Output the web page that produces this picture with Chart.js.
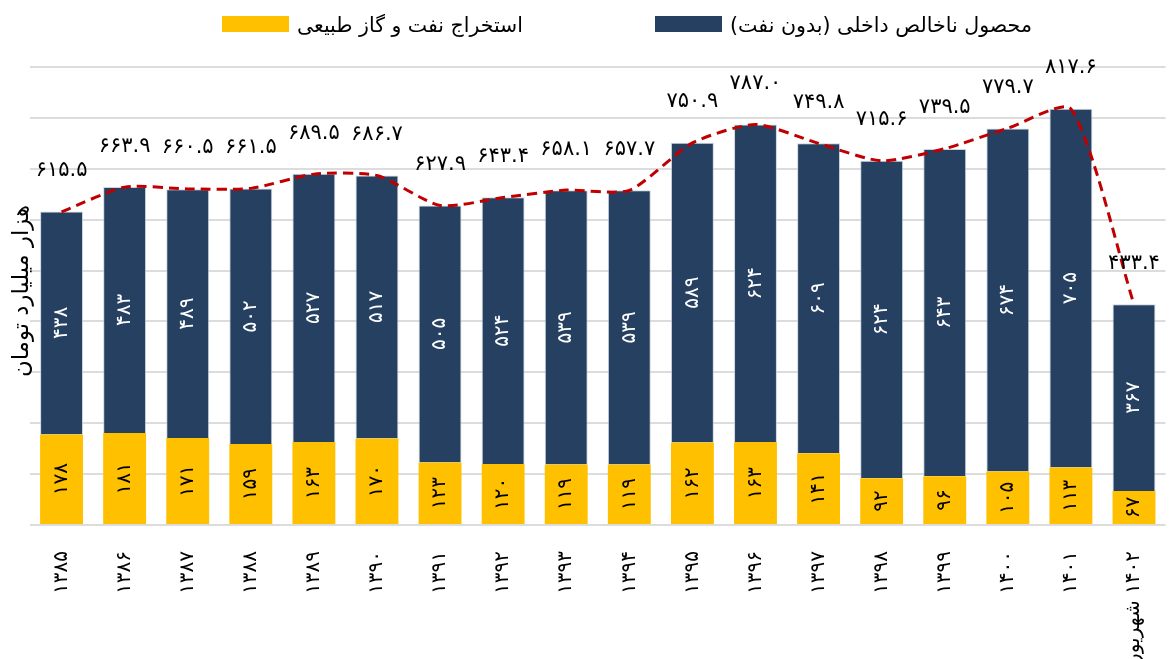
<!DOCTYPE html>
<html lang="fa">
<head>
<meta charset="utf-8">
<script src="https://cdn.jsdelivr.net/npm/chart.js@4.4.1/dist/chart.umd.min.js"></script>
<style>
html,body{margin:0;padding:0;background:#fff;overflow:hidden}
#wrap{position:absolute;left:0;top:0;width:1176px;height:659px}
canvas{direction:rtl}
</style>
</head>
<body>
<div id="wrap"><canvas id="c" width="1176" height="659"></canvas></div>
<script>
// GDP split: oil & gas extraction vs. non-oil GDP, with total as dashed line
const years = ["۱۳۸۵","۱۳۸۶","۱۳۸۷","۱۳۸۸","۱۳۸۹","۱۳۹۰","۱۳۹۱","۱۳۹۲","۱۳۹۳",
  "۱۳۹۴","۱۳۹۵","۱۳۹۶","۱۳۹۷","۱۳۹۸","۱۳۹۹","۱۴۰۰","۱۴۰۱","۱۴۰۲ شهریور"];
const oilGas = [178,181,171,159,163,170,123,120,119,119,162,163,141,92,96,105,113,67];
const nonOil = [438,483,489,502,527,517,505,524,539,539,589,624,609,624,643,674,705,367];
const totals = [615.5,663.9,660.5,661.5,689.5,686.7,627.9,643.4,658.1,657.7,750.9,787.0,
  749.8,715.6,739.5,779.7,817.6,433.4];
const seriesNames = ["استخراج نفت و گاز طبیعی", "محصول ناخالص داخلی (بدون نفت)"];
const yTitle = "هزار میلیارد تومان";

const C = {oil:"#FFC000", navy:"#264061", line:"#C00000", grid:"#dcdcdc"};
const FONT = '"DejaVu Sans", sans-serif';
const fa = v => String(v).replace(/\d/g, d => "۰۱۲۳۴۵۶۷۸۹"[d]);

// fit a font size so that text gets a given width
function fitFont(ctx, text, target, base) {
  ctx.font = `${base}px ${FONT}`;
  const w = ctx.measureText(text).width;
  return base * target / w;
}

const labels = {
  id: "labels",
  afterDatasetsDraw(chart) {
    const ctx = chart.ctx;
    ctx.save();
    ctx.textAlign = "center";
    ctx.textBaseline = "middle";
    [0, 1].forEach(di => {
      const vals = chart.data.datasets[di].data;
      chart.getDatasetMeta(di).data.forEach((bar, i) => {
        const {x, y, base} = bar.getProps(["x", "y", "base"], true);
        ctx.save();
        ctx.translate(x, (y + base) / 2);
        ctx.rotate(-Math.PI / 2);
        ctx.fillStyle = di === 0 ? "#000" : "#fff";
        ctx.font = `20px ${FONT}`;
        ctx.fillText(fa(vals[i]), 0, 0);
        ctx.restore();
      });
    });
    ctx.font = `21px ${FONT}`;
    ctx.fillStyle = "#000";
    chart.getDatasetMeta(2).data.forEach((p, i) => {
      ctx.fillText(fa(totals[i].toFixed(1)), p.x, p.y - 41);
    });
    ctx.restore();
  },
  afterDraw(chart) {
    const ctx = chart.ctx, a = chart.chartArea;
    ctx.save();
    ctx.fillStyle = "#000";
    ctx.textBaseline = "middle";
    // legend
    const items = [[C.oil, 222, seriesNames[0], 226], [C.navy, 655, seriesNames[1], 302]];
    items.forEach(([col, bx, txt, tw]) => {
      ctx.fillStyle = col;
      ctx.fillRect(bx, 16, 67, 16);
      ctx.fillStyle = "#000";
      ctx.font = `${fitFont(ctx, txt, tw, 20)}px ${FONT}`;
      ctx.textAlign = "left";
      ctx.fillText(txt, bx + 75, 27);
    });
    // y axis title
    ctx.save();
    ctx.translate(22, (a.top + a.bottom) / 2 - 5);
    ctx.rotate(-Math.PI / 2);
    ctx.font = `${fitFont(ctx, yTitle, 172, 22)}px ${FONT}`;
    ctx.textAlign = "center";
    ctx.fillText(yTitle, 0, 0);
    ctx.restore();
    ctx.restore();
  }
};

new Chart(document.getElementById("c"), {
  data: {labels: years, datasets: [
    {type:"bar", label:seriesNames[0], data:oilGas, backgroundColor:C.oil, stack:"gdp", order:1,
     barPercentage:0.68, categoryPercentage:1},
    {type:"bar", label:seriesNames[1], data:nonOil, backgroundColor:C.navy, borderColor:"rgba(190,200,215,.8)",
     borderWidth:1, stack:"gdp", order:1, barPercentage:0.68, categoryPercentage:1},
    {type:"line", label:"total", data:totals, borderColor:C.line, borderWidth:3, borderDash:[10,6],
     pointRadius:0, tension:0.22, fill:false, stack:"total", order:0},
  ]},
  options: {
    responsive:false, animation:false, devicePixelRatio:1,
    layout:{padding:{top:67, left:30, right:0, bottom:0}},
    plugins:{legend:{display:false}, tooltip:{enabled:false}},
    scales:{
      x:{stacked:true, grid:{display:false}, border:{display:false},
         ticks:{minRotation:90, maxRotation:90, autoSkip:false, padding:18, color:"#000",
                font:{size:20, family:FONT}},
         afterFit: s => { s.height = 134; }},
      y:{stacked:true, min:0, max:900, ticks:{display:false, stepSize:100},
         grid:{color:C.grid, lineWidth:2, drawTicks:false}, border:{display:false},
         afterFit: s => { s.width = 0; }},
    },
  },
  plugins:[labels],
});
</script>
</body>
</html>
